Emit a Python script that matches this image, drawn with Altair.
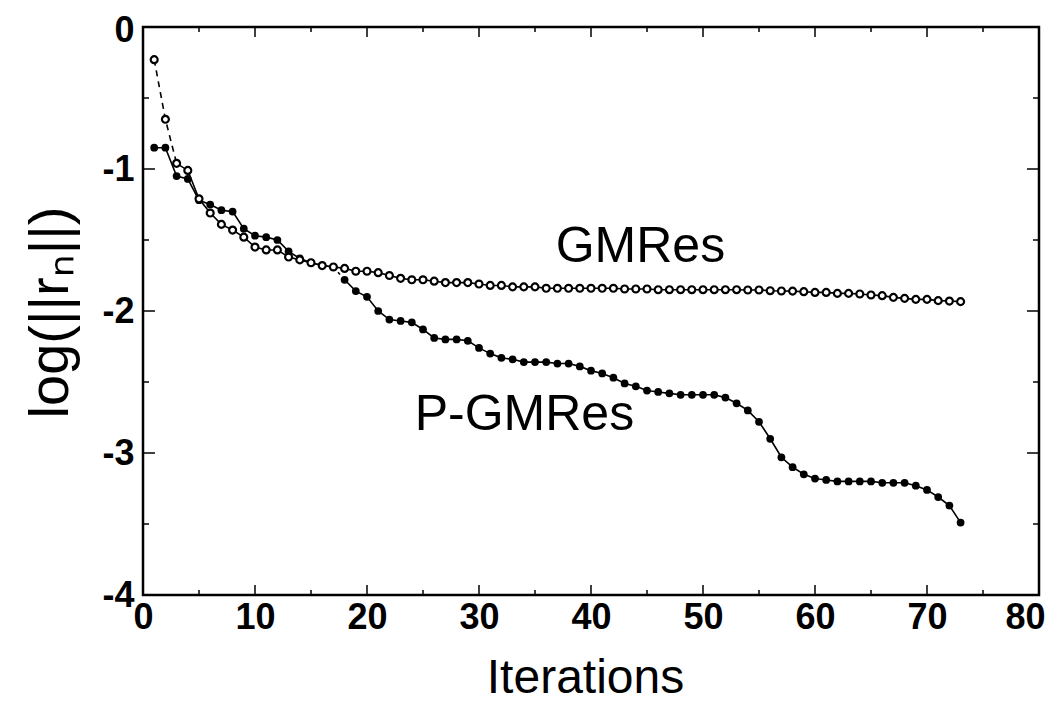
import altair as alt
import pandas as pd

iterations = list(range(1, 74))
gmres = [-0.23, -0.65, -0.96, -1.01, -1.21, -1.31, -1.39, -1.43, -1.48, -1.55,
         -1.57, -1.57, -1.62, -1.64, -1.66, -1.68, -1.69, -1.70, -1.72, -1.72,
         -1.73, -1.75, -1.77, -1.78, -1.78, -1.79, -1.80, -1.80, -1.80, -1.81,
         -1.82, -1.82, -1.83, -1.83, -1.83, -1.84, -1.84, -1.84, -1.84, -1.84,
         -1.84, -1.84, -1.845, -1.845, -1.845, -1.85, -1.85, -1.85, -1.85, -1.85,
         -1.85, -1.85, -1.85, -1.852, -1.852, -1.857, -1.859, -1.86, -1.864, -1.869,
         -1.869, -1.876, -1.876, -1.88, -1.887, -1.892, -1.904, -1.911, -1.918, -1.918,
         -1.927, -1.93, -1.934]
pgmres = [-0.85, -0.85, -1.05, -1.07, -1.22, -1.25, -1.29, -1.30, -1.42, -1.47,
          -1.48, -1.50, -1.58, -1.63, -1.66, -1.68, -1.69, -1.78, -1.86, -1.90,
          -2.00, -2.06, -2.07, -2.08, -2.13, -2.19, -2.20, -2.20, -2.21, -2.26,
          -2.30, -2.33, -2.34, -2.36, -2.36, -2.36, -2.37, -2.37, -2.39, -2.42,
          -2.44, -2.47, -2.51, -2.53, -2.56, -2.57, -2.58, -2.59, -2.59, -2.59,
          -2.59, -2.61, -2.65, -2.70, -2.78, -2.90, -3.03, -3.10, -3.15, -3.18,
          -3.19, -3.20, -3.20, -3.20, -3.20, -3.21, -3.21, -3.21, -3.23, -3.26,
          -3.31, -3.37, -3.49]

x_major = [0, 10, 20, 30, 40, 50, 60, 70, 80]
x_minor = [5, 15, 25, 35, 45, 55, 65, 75]
y_major = [0, -1, -2, -3, -4]
y_minor = [-0.5, -1.5, -2.5, -3.5]

W, H = 896, 568
FONT = "Liberation Sans"

df = pd.DataFrame({"it": iterations + iterations,
                   "v": gmres + pgmres,
                   "s": ["GMRes"] * len(iterations) + ["P-GMRes"] * len(iterations)})

xs = alt.Scale(domain=[0, 80], nice=False, zero=False)
ys = alt.Scale(domain=[-4, 0], nice=False, zero=False)

x_axis = alt.Axis(values=x_major, title="Iterations", labelPadding=5, labelFlush=False,
                  labelAlign={"expr": "datum.value == 80 ? 'right' : 'center'"},
                  labelOffset={"expr": "datum.value == 80 ? 6 : 0"},
                  titleFontSize=48, titleFont=FONT, titleFontWeight="normal",
                  titleX=442, titleY=97, titleBaseline="alphabetic",
                  titleAlign="center", titleColor="black")
y_axis = alt.Axis(values=y_major, title="log(||rₙ||)", labelPadding=9, labelFlush=False,
                  labelExpr="toString(datum.value)",
                  labelOffset={"expr": "datum.value == 0 ? 3 : 0"},
                  titleFontSize=56, titleFont=FONT, titleFontWeight="normal",
                  titleX=-93, titleY=285, titleAngle=-90, titleBaseline="middle",
                  titleAlign="center", titleColor="black")

def X(f):
    return alt.X(f, scale=xs, axis=x_axis)

def Y(f):
    return alt.Y(f, scale=ys, axis=y_axis)

base = alt.Chart(df)
g = base.transform_filter("datum.s == 'GMRes'")
p = base.transform_filter("datum.s == 'P-GMRes'")

lines = [
    g.transform_filter("datum.it <= 3").mark_line(color="black", strokeWidth=1.6, strokeDash=[6, 5]).encode(x=X("it:Q"), y=Y("v:Q")),
    g.transform_filter("datum.it >= 3").mark_line(color="black", strokeWidth=1.6).encode(x=X("it:Q"), y=Y("v:Q")),
    p.transform_filter("datum.it <= 17").mark_line(color="black", strokeWidth=1.6).encode(x=X("it:Q"), y=Y("v:Q")),
    p.transform_filter("datum.it >= 17 && datum.it <= 18").mark_line(color="black", strokeWidth=1.6, strokeDash=[3, 4]).encode(x=X("it:Q"), y=Y("v:Q")),
    p.transform_filter("datum.it >= 18").mark_line(color="black", strokeWidth=1.6).encode(x=X("it:Q"), y=Y("v:Q")),
]

pts = [
    p.mark_point(shape="circle", filled=True, color="black", size=60, opacity=1).encode(x=X("it:Q"), y=Y("v:Q")),
    g.mark_point(shape="circle", filled=True, fill="white", stroke="black", strokeWidth=2.2, size=48, opacity=1).encode(x=X("it:Q"), y=Y("v:Q")),
]

def xticks(vals, length):
    c = alt.Chart(pd.DataFrame({"it": vals}))
    return [
        c.mark_rule(color="black", strokeWidth=1.5).encode(x=X("it:Q"), y=alt.value(H), y2=alt.value(H - length)),
        c.mark_rule(color="black", strokeWidth=1.5).encode(x=X("it:Q"), y=alt.value(0), y2=alt.value(length)),
    ]

def yticks(vals, length):
    c = alt.Chart(pd.DataFrame({"v": vals}))
    return [
        c.mark_rule(color="black", strokeWidth=1.5).encode(y=Y("v:Q"), x=alt.value(0), x2=alt.value(length)),
        c.mark_rule(color="black", strokeWidth=1.5).encode(y=Y("v:Q"), x=alt.value(W), x2=alt.value(W - length)),
    ]

ticks = xticks(x_major, 10) + xticks(x_minor, 5) + yticks(y_major, 12) + yticks(y_minor, 6)

labels = [
    alt.Chart(pd.DataFrame({"l": ["GMRes"]})).mark_text(
        font=FONT, fontSize=50, align="left", baseline="alphabetic", color="black").encode(
        x=alt.datum(36.85, scale=xs), y=alt.datum(-1.655, scale=ys), text="l:N"),
    alt.Chart(pd.DataFrame({"l": ["P-GMRes"]})).mark_text(
        font=FONT, fontSize=50, align="left", baseline="alphabetic", color="black").encode(
        x=alt.datum(24.26, scale=xs), y=alt.datum(-2.84, scale=ys), text="l:N"),
]

chart = alt.layer(*lines, *pts, *ticks, *labels).properties(
    width=W, height=H,
    background="white",
    autosize=alt.AutoSizeParams(type="none"),
    padding={"left": 135, "top": 19, "right": 12, "bottom": 108},
).configure_view(stroke="black", strokeWidth=2.5).configure_axis(
    domain=False, ticks=False, grid=False,
    labelFont=FONT, labelFontSize=36, labelFontWeight="bold", labelColor="black",
)

chart.save("out.html", embed_options={"renderer": "svg", "actions": False})
